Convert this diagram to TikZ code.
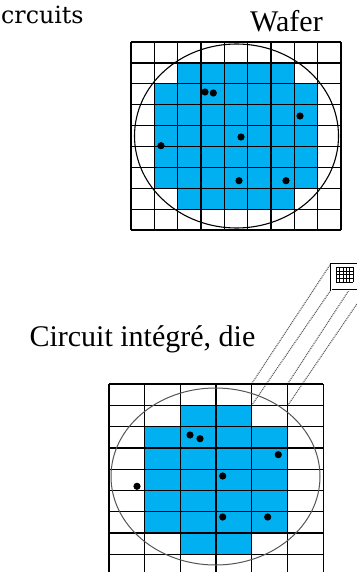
\documentclass[tikz,border=0pt]{standalone}
\usepackage{fontspec}
\setmainfont{Liberation Serif}
\newfontfamily\captionserif{DejaVu Serif}
\usetikzlibrary{backgrounds}
\definecolor{WaferBlue}{HTML}{00B0F0}
\definecolor{RimGray}{HTML}{555555}

\begin{document}
\begin{tikzpicture}[x=1pt, y=-1pt,
    gridline/.style={line width=1.3pt, black},
    defect/.style={circle, fill=black, inner sep=0pt, minimum size=7.2pt},
    title/.style={inner sep=0pt, font=\fontsize{30}{36}\selectfont},
    mapline/.style={dash pattern=on 1pt off 0.9pt, line width=1.1pt, black!65},
    chipbox/.style={draw, double, double distance=0.8pt, line width=0.5pt,
      fill=white, minimum width=35pt, minimum height=26pt, inner sep=0pt}
  ]
  \useasboundingbox (0,0) rectangle (356,572);
  \node[inner sep=0pt, anchor=base west,
    font=\captionserif\fontsize{23.7}{28}\selectfont] (crcuits) at (1,23.5) {crcuits};
  \node[title, anchor=base west] (wafer) at (250,31.7) {Wafer};
  \node[title, anchor=base east] (die) at (255.5,346.5) {Circuit intégré, die};

  \begin{scope}[shift={(131,42)}, x=23.33pt, y=-20.9pt]
    \fill[WaferBlue] (2,1) rectangle (7,8) (1,2) rectangle (8,7);
    \foreach \k in {0,...,9} {
      \draw[gridline] (\k,0) -- (\k,9);
      \draw[gridline] (0,\k) -- (9,\k);
    }
  \end{scope}
  \draw[line width=1.1pt] (236.5,136) ellipse [x radius=102pt, y radius=92pt];
  \foreach \px/\py [count=\n] in {205/92, 213.3/93, 300/116, 241/137,
      161/145.7, 239/180.7, 286/180.7}
    \node[defect] (wdef\n) at (\px,\py) {};

  \begin{scope}[shift={(109,384)}, x=35.7pt, y=-21.3pt]
    \fill[WaferBlue] (2,1) rectangle (4,8) (1,2) rectangle (5,7);
    \foreach \k in {0,...,6} \draw[gridline] (\k,0) -- (\k,9);
    \foreach \k in {0,...,9} \draw[gridline] (0,\k) -- (6,\k);
    \node[inner sep=0pt, minimum width=35.7pt, minimum height=21.3pt] (cell) at (4.5,0.5) {};
  \end{scope}
  \draw[RimGray, line width=1pt] (215.5,476.5) ellipse [x radius=104.5pt, y radius=88.5pt];
  \foreach \px/\py [count=\n] in {190/435, 200/438.7, 278.3/454.7, 222.7/476,
      137/486.3, 222.7/517, 267.7/517}
    \node[defect] (ddef\n) at (\px,\py) {};

  \node[chipbox] (chip) at (348.5,277) {};
  \begin{scope}[shift={(336,267)}, x=3.4pt, y=-3.75pt, line width=0.5pt]
    \foreach \k in {0,...,5} \draw (\k,0) -- (\k,4);
    \foreach \k in {0,...,4} \draw (0,\k) -- (5,\k);
  \end{scope}
  \begin{scope}[on background layer]
    \draw[mapline] (cell.north west) -- (chip.north west);
    \draw[mapline] (cell.south west) -- (chip.south west);
    \draw[mapline] (cell.north east) -- (chip.north east);
    \draw[mapline] (cell.south east) -- (chip.south east);
  \end{scope}
\end{tikzpicture}
\end{document}
